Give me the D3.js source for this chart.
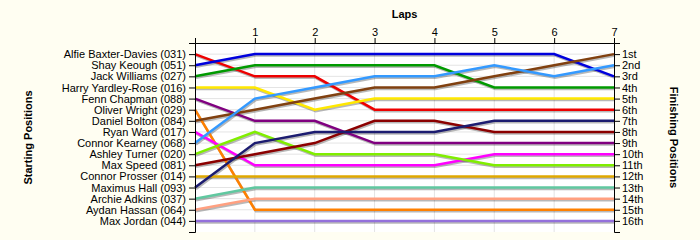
<!DOCTYPE html>
<html>
<head>
<meta charset="utf-8">
<script src="https://cdn.jsdelivr.net/npm/d3@7/dist/d3.min.js"></script>
<style>
  html, body { margin: 0; padding: 0; background: #fffef2; }
  svg { display: block; }
  text { font-family: "Liberation Sans", Arial, sans-serif; }
</style>
</head>
<body>
<svg id="chart" width="700" height="240"></svg>
<script>
const drivers = [
  "Alfie Baxter-Davies (031)", "Shay Keough (051)", "Jack Williams (027)",
  "Harry Yardley-Rose (016)", "Fenn Chapman (088)", "Oliver Wright (029)",
  "Daniel Bolton (084)", "Ryan Ward (017)", "Connor Kearney (068)",
  "Ashley Turner (020)", "Max Speed (081)", "Connor Prosser (014)",
  "Maximus Hall (093)", "Archie Adkins (037)", "Aydan Hassan (064)",
  "Max Jordan (044)"
];
const laps = [0, 1, 2, 3, 4, 5, 6, 7];
const lapTicks = [1, 2, 3, 4, 5, 6, 7];
const finishLabels = ["1st","2nd","3rd","4th","5th","6th","7th","8th","9th","10th","11th","12th","13th","14th","15th","16th"];
// positions of each driver at laps 0..7
const positions = [
  [1, 3, 3, 6, 6, 6, 6, 6],
  [2, 1, 1, 1, 1, 1, 1, 3],
  [3, 2, 2, 2, 2, 4, 4, 4],
  [4, 4, 6, 5, 5, 5, 5, 5],
  [5, 7, 7, 9, 9, 9, 9, 9],
  [6, 15, 15, 15, 15, 15, 15, 15],
  [7, 6, 5, 4, 4, 3, 2, 1],
  [8, 11, 11, 11, 11, 10, 10, 10],
  [9, 5, 4, 3, 3, 2, 3, 2],
  [10, 8, 10, 10, 10, 11, 11, 11],
  [11, 10, 9, 7, 7, 8, 8, 8],
  [12, 12, 12, 12, 12, 12, 12, 12],
  [13, 9, 8, 8, 8, 7, 7, 7],
  [14, 13, 13, 13, 13, 13, 13, 13],
  [15, 14, 14, 14, 14, 14, 14, 14],
  [16, 16, 16, 16, 16, 16, 16, 16]
];
const colors = [
  "#ee0000", "#0000dd", "#009a00", "#ffe800", "#800080", "#ff8000",
  "#804010", "#ff00ff", "#3399ff", "#80ee00", "#8b0000", "#e0a800",
  "#1c1c70", "#60c8a0", "#ffa080", "#9370db"
];

const svg = d3.select("#chart");
const L = 195, R = 614, T = 43, B = 232;
const x = d3.scaleLinear().domain([0, 7]).range([L, R]);
const y = d3.scaleLinear().domain([0, 17]).range([T, B]);
const rows = d3.range(1, 17);

svg.append("rect").attr("x", L).attr("y", T).attr("width", R - L).attr("height", B - T).attr("fill", "#ffffff");

// grid
svg.append("g").selectAll("line").data(rows).join("line")
  .attr("x1", L).attr("x2", R).attr("y1", d => y(d)).attr("y2", d => y(d))
  .attr("stroke", "#e4e4e4").attr("stroke-width", 1);
svg.append("g").selectAll("line").data(lapTicks.slice(0, 6)).join("line")
  .attr("x1", d => x(d)).attr("x2", d => x(d)).attr("y1", T).attr("y2", B)
  .attr("stroke", "#e4e4e4").attr("stroke-width", 1);

const line = d3.line().x((d, i) => x(laps[i])).y(d => y(d));

// shadows
svg.append("g").attr("transform", "translate(1,1.5)")
  .selectAll("path").data(positions).join("path")
  .attr("d", line).attr("fill", "none").attr("stroke", "rgba(0,0,0,0.28)").attr("stroke-width", 2.5);

svg.append("g").selectAll("path").data(positions).join("path")
  .attr("d", line).attr("fill", "none")
  .attr("stroke", (d, i) => colors[i]).attr("stroke-width", 2.5)
  .attr("stroke-linejoin", "miter");

// axes
const fs = "11px";
const axTop = svg.append("g").attr("transform", `translate(0,${T})`)
  .call(d3.axisTop(x).tickValues(lapTicks).tickSize(5).tickPadding(2).tickFormat(d3.format("d")));
const axLeft = svg.append("g").attr("transform", `translate(${L},0)`)
  .call(d3.axisLeft(y).tickValues(rows).tickSize(6).tickPadding(3).tickFormat(d => drivers[d - 1]));
const axRight = svg.append("g").attr("transform", `translate(${R},0)`)
  .call(d3.axisRight(y).tickValues(rows).tickSize(6).tickPadding(2).tickFormat(d => finishLabels[d - 1]));
[axTop, axLeft, axRight].forEach(g => {
  g.selectAll("text").attr("font-size", fs).attr("fill", "#000")
    .attr("font-family", "'Liberation Sans', Arial, sans-serif");
  g.selectAll("path, line").attr("stroke", "#000");
});

svg.append("text").attr("x", (L + R) / 2).attr("y", 18).attr("text-anchor", "middle")
  .attr("font-size", "11px").attr("font-weight", "bold").text("Laps");
svg.append("text").attr("transform", `translate(32,${(T + B) / 2}) rotate(-90)`)
  .attr("text-anchor", "middle").attr("font-size", "11px").attr("font-weight", "bold").text("Starting Positions");
svg.append("text").attr("transform", `translate(670,${(T + B) / 2}) rotate(90)`)
  .attr("text-anchor", "middle").attr("font-size", "11px").attr("font-weight", "bold").text("Finishing Positions");
</script>
</body>
</html>
